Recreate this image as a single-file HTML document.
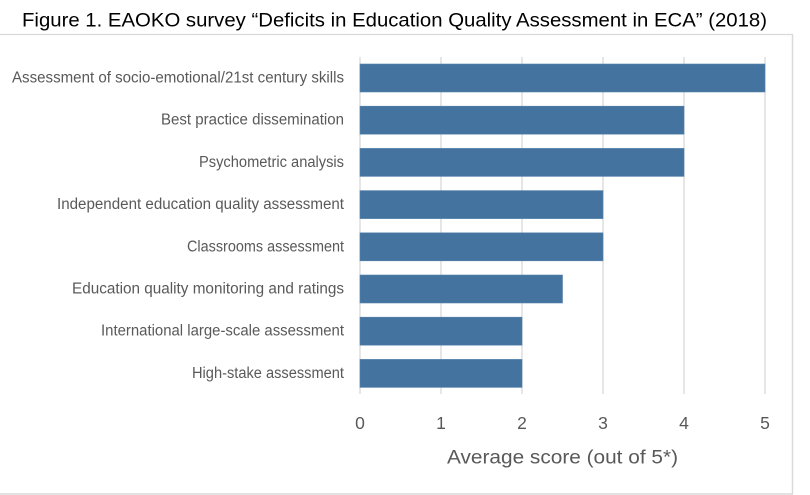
<!DOCTYPE html>
<html><head><meta charset="utf-8">
<style>
html,body{margin:0;padding:0;background:#fff;}
svg{display:block;}
</style></head>
<body>
<svg width="810" height="495" viewBox="0 0 810 495" xmlns="http://www.w3.org/2000/svg">
<rect width="810" height="495" fill="#fff"/>
<text x="22" y="26.5" font-family="Liberation Sans, sans-serif" font-size="19.5" fill="#000" textLength="745" lengthAdjust="spacingAndGlyphs">Figure 1. EAOKO survey “Deficits in Education Quality Assessment in ECA” (2018)</text>
<!-- frame -->
<line x1="0" y1="34.5" x2="793" y2="34.5" stroke="#d9d9d9" stroke-width="1.2"/>
<line x1="792.5" y1="34" x2="792.5" y2="494" stroke="#d9d9d9" stroke-width="1.5"/>
<line x1="0" y1="494" x2="793" y2="494" stroke="#d9d9d9" stroke-width="1.5"/>
<!-- gridlines -->
<g stroke="#d9d9d9" stroke-width="1.3">
<line x1="360" y1="57" x2="360" y2="394"/>
<line x1="441" y1="57" x2="441" y2="394"/>
<line x1="522" y1="57" x2="522" y2="394"/>
<line x1="603" y1="57" x2="603" y2="394"/>
<line x1="684" y1="57" x2="684" y2="394"/>
<line x1="765" y1="57" x2="765" y2="394"/>
</g>
<!-- bars -->
<g fill="#44739f" stroke="#5683ad" stroke-width="0.6">
<rect x="360" y="64" width="405" height="28"/>
<rect x="360" y="106.2" width="324" height="28"/>
<rect x="360" y="148.4" width="324" height="28"/>
<rect x="360" y="190.6" width="243" height="28"/>
<rect x="360" y="232.8" width="243" height="28"/>
<rect x="360" y="275" width="202.5" height="28"/>
<rect x="360" y="317.2" width="162" height="28"/>
<rect x="360" y="359.4" width="162" height="28"/>
</g>
<!-- category labels -->
<g font-family="Liberation Sans, sans-serif" font-size="15.5" fill="#595959" text-anchor="end" lengthAdjust="spacingAndGlyphs">
<text x="344" y="82.5" textLength="332" lengthAdjust="spacingAndGlyphs">Assessment of socio-emotional/21st century skills</text>
<text x="344" y="124.7" textLength="183" lengthAdjust="spacingAndGlyphs">Best practice dissemination</text>
<text x="344" y="166.9" textLength="145" lengthAdjust="spacingAndGlyphs">Psychometric analysis</text>
<text x="344" y="209.1" textLength="287" lengthAdjust="spacingAndGlyphs">Independent education quality assessment</text>
<text x="344" y="251.3" textLength="157" lengthAdjust="spacingAndGlyphs">Classrooms assessment</text>
<text x="344" y="293.5" textLength="272" lengthAdjust="spacingAndGlyphs">Education quality monitoring and ratings</text>
<text x="344" y="335.7" textLength="243" lengthAdjust="spacingAndGlyphs">International large-scale assessment</text>
<text x="344" y="377.9" textLength="152" lengthAdjust="spacingAndGlyphs">High-stake assessment</text>
</g>
<!-- tick labels -->
<g font-family="Liberation Sans, sans-serif" font-size="17.5" fill="#595959" text-anchor="middle">
<text x="360" y="429">0</text>
<text x="441" y="429">1</text>
<text x="522" y="429">2</text>
<text x="603" y="429">3</text>
<text x="684" y="429">4</text>
<text x="765" y="429">5</text>
</g>
<text x="562.5" y="463.5" font-family="Liberation Sans, sans-serif" font-size="19" fill="#595959" text-anchor="middle" textLength="231" lengthAdjust="spacingAndGlyphs">Average score (out of 5*)</text>
</svg>
</body></html>
